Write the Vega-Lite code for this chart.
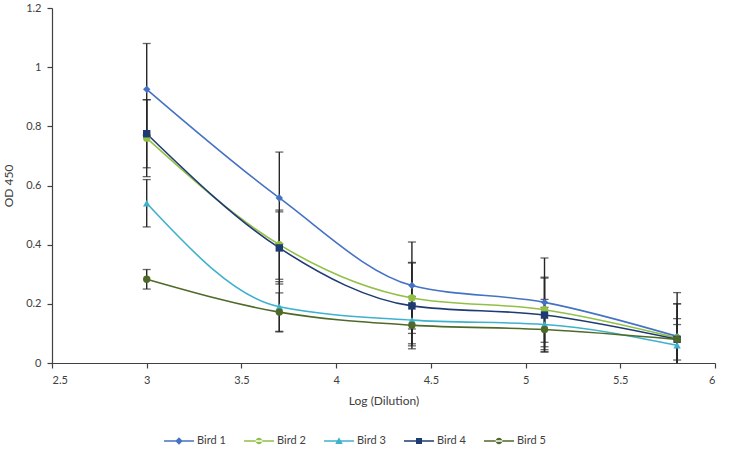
{
  "$schema": "https://vega.github.io/schema/vega-lite/v6.json",
  "autosize": {"type": "none"},
  "width": 663,
  "height": 355,
  "padding": {"left": 52, "top": 8, "right": 16, "bottom": 91},
  "background": "white",
  "config": {
    "font": "Lato",
    "view": {"stroke": null},
    "axis": {"labelFont": "Lato", "titleFont": "Lato", "labelFontSize": 11, "titleFontSize": 12, "titleFontWeight": "normal", "labelColor": "#404040", "titleColor": "#404040", "domainColor": "#404040", "tickColor": "#404040", "grid": false, "tickSize": 5, "domainWidth": 1.2, "tickWidth": 1.2}
  },
  "data": {"values": [
    {"bird": "Bird 1", "x": 3, "y": 0.925, "err": 0.155},
    {"bird": "Bird 1", "x": 3.7, "y": 0.558, "err": 0.155},
    {"bird": "Bird 1", "x": 4.4, "y": 0.262, "err": 0.147},
    {"bird": "Bird 1", "x": 5.1, "y": 0.205, "err": 0.15},
    {"bird": "Bird 1", "x": 5.8, "y": 0.09, "err": 0.148},
    {"bird": "Bird 2", "x": 3, "y": 0.76, "err": 0.13},
    {"bird": "Bird 2", "x": 3.7, "y": 0.4, "err": 0.117},
    {"bird": "Bird 2", "x": 4.4, "y": 0.22, "err": 0.12},
    {"bird": "Bird 2", "x": 5.1, "y": 0.18, "err": 0.11},
    {"bird": "Bird 2", "x": 5.8, "y": 0.085, "err": 0.115},
    {"bird": "Bird 3", "x": 3, "y": 0.54, "err": 0.08},
    {"bird": "Bird 3", "x": 3.7, "y": 0.19, "err": 0.085},
    {"bird": "Bird 3", "x": 4.4, "y": 0.145, "err": 0.08},
    {"bird": "Bird 3", "x": 5.1, "y": 0.13, "err": 0.085},
    {"bird": "Bird 3", "x": 5.8, "y": 0.06, "err": 0.07},
    {"bird": "Bird 4", "x": 3, "y": 0.775, "err": 0.115},
    {"bird": "Bird 4", "x": 3.7, "y": 0.389, "err": 0.122},
    {"bird": "Bird 4", "x": 4.4, "y": 0.193, "err": 0.145},
    {"bird": "Bird 4", "x": 5.1, "y": 0.162, "err": 0.125},
    {"bird": "Bird 4", "x": 5.8, "y": 0.08, "err": 0.12},
    {"bird": "Bird 5", "x": 3, "y": 0.283, "err": 0.033},
    {"bird": "Bird 5", "x": 3.7, "y": 0.172, "err": 0.065},
    {"bird": "Bird 5", "x": 4.4, "y": 0.128, "err": 0.07},
    {"bird": "Bird 5", "x": 5.1, "y": 0.113, "err": 0.075},
    {"bird": "Bird 5", "x": 5.8, "y": 0.08, "err": 0.07}
  ]},
  "encoding": {
    "x": {"field": "x", "type": "quantitative", "scale": {"domain": [2.5, 6], "nice": false, "zero": false}, "axis": {"title": "Log (Dilution)", "values": [2.5, 3, 3.5, 4, 4.5, 5, 5.5, 6], "format": "~g", "labelPadding": 6, "titlePadding": 10}},
    "y": {"field": "y", "type": "quantitative", "scale": {"domain": [0, 1.2], "nice": false}, "axis": {"title": "OD 450", "values": [0, 0.2, 0.4, 0.6, 0.8, 1, 1.2], "format": "~g", "labelPadding": 6, "titlePadding": 10}}
  },
  "layer": [
    {
      "mark": {"type": "errorbar", "clip": true, "ticks": {"size": 8, "thickness": 1.3, "color": "#262626"}, "rule": {"strokeWidth": 1.4, "color": "#262626"}, "color": "#262626"},
      "encoding": {
        "x": {"field": "x", "type": "quantitative"},
        "y": {"field": "y", "type": "quantitative"},
        "yError": {"field": "err"},
        "detail": {"field": "bird"}
      }
    },
    {
      "mark": {"type": "line", "interpolate": "monotone", "strokeWidth": 1.6},
      "encoding": {
        "color": {"field": "bird", "type": "nominal"}
      }
    },
    {
      "transform": [{"filter": "datum.bird == 'Bird 1'"}],
      "mark": {"type": "point", "filled": true, "opacity": 1, "size": 55, "shape": "diamond"},
      "encoding": {"color": {"field": "bird", "type": "nominal"}}
    },
    {
      "transform": [{"filter": "datum.bird == 'Bird 2'"}],
      "mark": {"type": "point", "filled": true, "opacity": 1, "size": 55, "shape": "circle"},
      "encoding": {"color": {"field": "bird", "type": "nominal"}}
    },
    {
      "transform": [{"filter": "datum.bird == 'Bird 3'"}],
      "mark": {"type": "point", "filled": true, "opacity": 1, "size": 55, "shape": "triangle-up"},
      "encoding": {"color": {"field": "bird", "type": "nominal"}}
    },
    {
      "transform": [{"filter": "datum.bird == 'Bird 4'"}],
      "mark": {"type": "point", "filled": true, "opacity": 1, "size": 55, "shape": "square"},
      "encoding": {"color": {"field": "bird", "type": "nominal"}}
    },
    {
      "transform": [{"filter": "datum.bird == 'Bird 5'"}],
      "mark": {"type": "point", "filled": true, "opacity": 1, "size": 55, "shape": "circle"},
      "encoding": {"color": {"field": "bird", "type": "nominal"}}
    },
    {
      "transform": [{"filter": "datum.y < 0"}],
      "mark": {"type": "point", "filled": true, "opacity": 1},
      "encoding": {
        "color": {"field": "bird", "type": "nominal", "scale": {"domain": ["Bird 1", "Bird 2", "Bird 3", "Bird 4", "Bird 5"], "range": ["#4472C4", "#92C046", "#3FB1CE", "#1F3B73", "#4F6A28"]},
          "legend": {"title": null, "orient": "none", "legendX": 112, "legendY": 418, "direction": "horizontal", "symbolSize": 900, "symbolStrokeWidth": 0, "symbolOpacity": 1, "labelFont": "Lato", "labelFontSize": 11, "labelColor": "#404040", "labelOffset": 3, "columnPadding": 18}},
        "shape": {"field": "bird", "type": "nominal", "scale": {"domain": ["Bird 1", "Bird 2", "Bird 3", "Bird 4", "Bird 5"], "range": [
          "M-1,-0.05H1V0.05H-1Z M0,-0.25L0.25,0L0,0.25L-0.25,0Z",
          "M-1,-0.05H1V0.05H-1Z M-0.22,0A0.22,0.22 0 1,0 0.22,0A0.22,0.22 0 1,0 -0.22,0Z",
          "M-1,-0.05H1V0.05H-1Z M0,-0.25L0.25,0.2H-0.25Z",
          "M-1,-0.05H1V0.05H-1Z M-0.2,-0.2H0.2V0.2H-0.2Z",
          "M-1,-0.05H1V0.05H-1Z M-0.22,0A0.22,0.22 0 1,0 0.22,0A0.22,0.22 0 1,0 -0.22,0Z"
        ]},
          "legend": {"title": null, "orient": "none", "legendX": 112, "legendY": 418, "direction": "horizontal", "symbolSize": 900, "symbolStrokeWidth": 0, "symbolOpacity": 1, "labelFont": "Lato", "labelFontSize": 11, "labelColor": "#404040", "labelOffset": 3, "columnPadding": 18}}
      }
    }
  ]
}
